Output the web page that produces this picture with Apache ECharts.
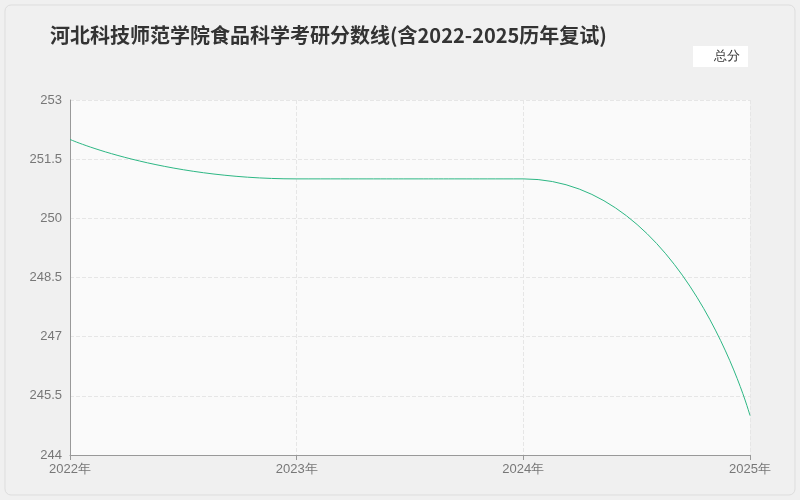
<!DOCTYPE html>
<html><head><meta charset="utf-8">
<script src="https://cdn.jsdelivr.net/npm/echarts@6/dist/echarts.min.js"></script>
<style>html,body{margin:0;padding:0;background:#f0f0f0}#c{width:800px;height:500px}</style>
</head><body><div id="c"></div>
<script>
const categories = ['2022年','2023年','2024年','2025年'];
const totalScores = [252, 251, 251, 245];
const seriesName = '总分';
const chart = echarts.init(document.getElementById('c'));
chart.setOption({
  backgroundColor: '#f0f0f0',
  graphic: [{type:'rect', shape:{x:5,y:5,width:790,height:490,r:6}, style:{fill:'#f0f0f0',stroke:'#ddd'}, z:-10}],
  title: {text:'河北科技师范学院食品科学考研分数线(含2022-2025历年复试)', left:45, top:20,
    textStyle:{fontSize:20,fontWeight:'bold',color:'#333',fontFamily:'Noto Sans CJK SC'}},
  legend: {data:[seriesName], right:52, top:46, itemWidth:8, itemHeight:8, icon:'rect',
    backgroundColor:'#fff', padding:[4,8], textStyle:{fontSize:13,color:'#333'}},
  grid: {left:70, right:50, top:100, bottom:45, show:true, backgroundColor:'#fafafa', borderWidth:0},
  xAxis: {type:'category', data:categories, boundaryGap:false,
    axisLine:{lineStyle:{color:'#999'}}, axisTick:{show:true,lineStyle:{color:'#999'}},
    axisLabel:{color:'#777',fontSize:13},
    splitLine:{show:true,lineStyle:{type:'dashed',color:'#e6e6e6'}}},
  yAxis: {type:'value', min:244, max:253, interval:1.5,
    axisLine:{show:true,lineStyle:{color:'#999'}}, axisLabel:{color:'#777',fontSize:13},
    splitLine:{lineStyle:{type:'dashed',color:'#e6e6e6'}}},
  series: [{name:seriesName, type:'line', smooth:0.6, data:totalScores, symbol:'circle', symbolSize:1,
    showSymbol:true,
    itemStyle:{color:'#2db784', opacity:0}, lineStyle:{width:1,color:'#2db784'},
    label:{show:true, position:'right', distance:2, color:'#111', fontSize:13, fontWeight:'bold',
      backgroundColor:'#d0d0d0', padding:[2,4,1,8]}}]
});
</script></body></html>
